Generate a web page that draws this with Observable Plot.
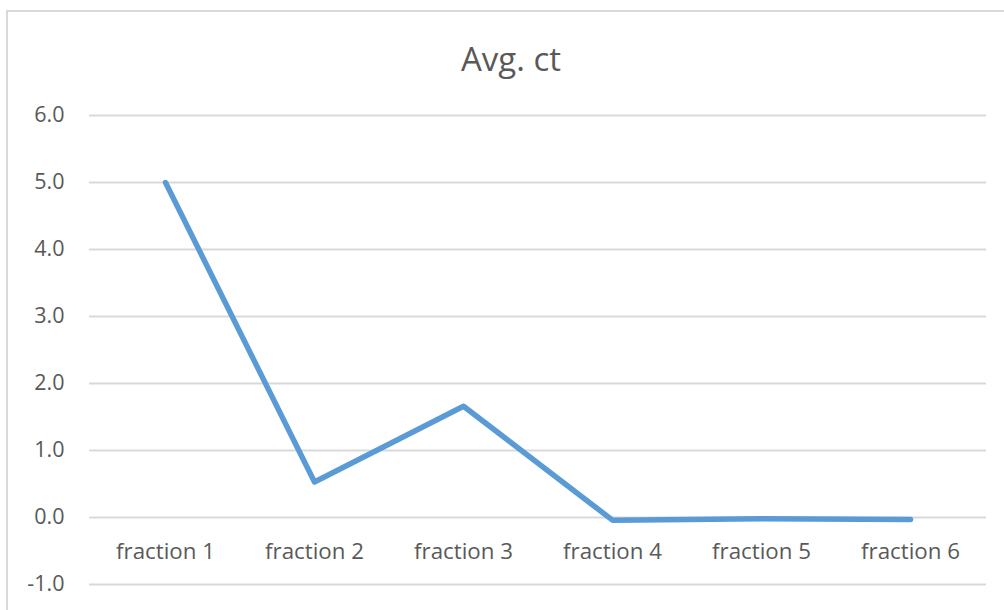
<!DOCTYPE html>
<html>
<head>
<meta charset="utf-8">
<script src="https://cdn.jsdelivr.net/npm/d3@7"></script>
<script src="https://cdn.jsdelivr.net/npm/@observablehq/plot@0.6"></script>
<style>
  html, body { margin: 0; padding: 0; background: #fff; overflow: hidden; }
  #wrap { position: relative; width: 1004px; height: 610px; overflow: hidden; }
  #frame { position: absolute; left: 6px; top: 10px; width: 1020px; height: 640px; border: 2px solid #d9d9d9; box-sizing: border-box; }
  #title { position: absolute; left: 0; width: 1022px; top: 36px; text-align: center; font-family: "Open Sans", sans-serif; font-size: 33px; line-height: 45px; color: #595959; }
  #chart { position: absolute; left: 0; top: 0; }
</style>
</head>
<body>
<div id="wrap">
  <div id="frame"></div>
  <div id="chart"></div>
  <div id="title">Avg. ct</div>
</div>
<script>
const categories = ["fraction 1", "fraction 2", "fraction 3", "fraction 4", "fraction 5", "fraction 6"];
const avgCt = [5.0, 0.53, 1.66, -0.04, -0.02, -0.03];
const yTicks = [-1, 0, 1, 2, 3, 4, 5, 6];

const data = categories.map((c, i) => ({category: c, value: avgCt[i]}));

const chart = Plot.plot({
  width: 1004,
  height: 610,
  marginLeft: 89,
  marginRight: 18,
  marginTop: 115,
  marginBottom: 26,
  style: {fontFamily: "'Open Sans', sans-serif", fontSize: "21px", color: "#595959", background: "transparent", overflow: "visible"},
  x: {type: "point", domain: categories, padding: 0.5, axis: null},
  y: {domain: [-1, 6], ticks: yTicks},
  marks: [
    Plot.gridY(yTicks, {stroke: "#d9d9d9", strokeOpacity: 1, strokeWidth: 2}),
    Plot.axisY(yTicks, {tickSize: 0, tickPadding: 25, tickFormat: d => d.toFixed(1), fill: "#595959", fontSize: 21.5, label: null}),
    Plot.line(data, {x: "category", y: "value", stroke: "#5b9bd5", strokeWidth: 5.5, strokeLinecap: "round", strokeLinejoin: "round"}),
    Plot.text(categories, {x: d => d, y: () => 0, dy: 34, fill: "#595959", fontSize: 22.3, text: d => d})
  ]
});
document.getElementById("chart").appendChild(chart);
</script>
</body>
</html>
